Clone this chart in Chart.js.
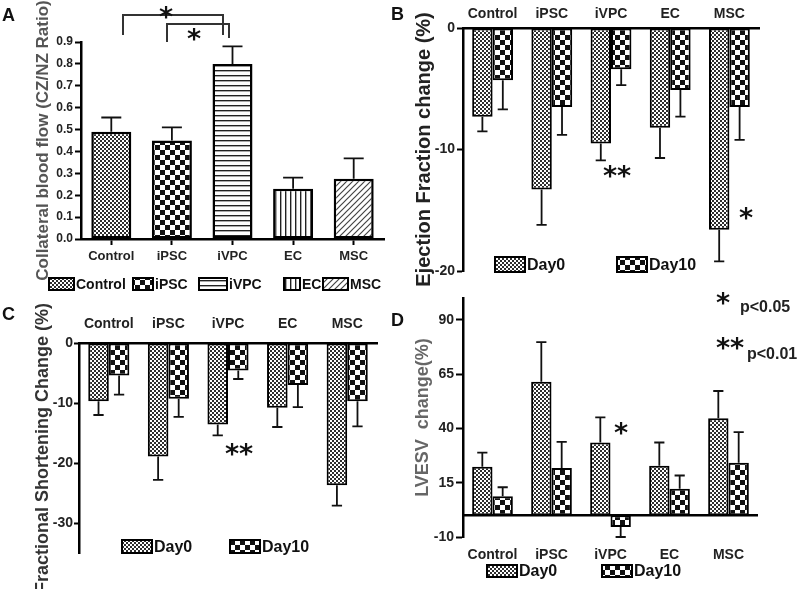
<!DOCTYPE html>
<html><head><meta charset="utf-8">
<script src="https://cdn.jsdelivr.net/npm/chart.js@4/dist/chart.umd.min.js"></script>
<style>
html,body{margin:0;padding:0;background:#fff;}
#wrap{position:relative;width:800px;height:589px;overflow:hidden;background:#fff;}
canvas{position:absolute;}
.pl{position:absolute;font:bold 18px "Liberation Sans",Arial,sans-serif;line-height:18px;color:#111;}
</style></head><body>
<div id="wrap">
<canvas id="cA" width="400" height="300" style="left:0;top:0"></canvas>
<canvas id="cB" width="400" height="300" style="left:400px;top:0"></canvas>
<canvas id="cC" width="400" height="289" style="left:0;top:300px"></canvas>
<canvas id="cD" width="400" height="319" style="left:400px;top:270px"></canvas>
<div class="pl" style="left:2px;top:6px">A</div>
<div class="pl" style="left:391px;top:5px">B</div>
<div class="pl" style="left:2px;top:305px">C</div>
<div class="pl" style="left:391px;top:311px">D</div>
</div>
<script>
// ---------- data ----------
const groups = ['Control','iPSC','iVPC','EC','MSC'];
const seriesNames = ['Day0','Day10'];

const flowValues = [0.49, 0.45, 0.80, 0.23, 0.275];
const flowErrors = [0.065, 0.06, 0.08, 0.05, 0.093];
const flowTicks  = [0,0.1,0.2,0.3,0.4,0.5,0.6,0.7,0.8,0.9];

const efDay0     = [-7.3, -13.3, -9.5, -8.2, -16.6];
const efDay0Err  = [1.2, 2.9, 1.4, 2.5, 2.6];
const efDay10    = [-4.3, -6.5, -3.4, -5.1, -6.5];
const efDay10Err = [2.4, 2.3, 1.3, 2.2, 2.7];
const efTicks    = [-20, -10, 0];

const fsDay0     = [-9.7, -18.9, -13.6, -10.8, -23.7];
const fsDay0Err  = [2.3, 3.9, 1.8, 3.2, 3.4];
const fsDay10    = [-5.4, -9.3, -4.6, -7.0, -9.7];
const fsDay10Err = [3.2, 3.0, 1.4, 3.7, 4.2];
const fsTicks    = [-30, -20, -10, 0];

const lvDay0     = [22.3, 61.5, 33.5, 22.8, 44.6];
const lvDay0Err  = [6.5, 18.2, 11.6, 10.7, 12.6];
const lvDay10    = [8.8, 21.8, -5.4, 12.2, 24.2];
const lvDay10Err = [4.1, 12.0, 4.6, 6.1, 14.1];
const lvTicks    = [-10, 15, 40, 65, 90];

// ---------- styles ----------
const FONT = '"Liberation Sans", Arial, sans-serif';
function pat(kind){
  const sz={fine:4,check:10,hline:5,vline:5,diag:6}[kind];
  const c=document.createElement('canvas'); c.width=c.height=sz;
  const g=c.getContext('2d');
  g.fillStyle='#fff'; g.fillRect(0,0,sz,sz);
  if(kind==='fine'){g.fillStyle='#2e2e2e';g.fillRect(0,0,2,2);g.fillRect(2,2,2,2);}
  else if(kind==='check'){g.fillStyle='#111';g.fillRect(0,0,5,5);g.fillRect(5,5,5,5);}
  else if(kind==='hline'){g.fillStyle='#222';g.fillRect(0,0,5,1);g.fillStyle='#aaa';g.fillRect(0,1,5,1);}
  else if(kind==='vline'){g.fillStyle='#222';g.fillRect(0,0,1,5);g.fillStyle='#aaa';g.fillRect(1,0,1,5);}
  else if(kind==='diag'){g.strokeStyle='#444';g.lineWidth=1.2;g.beginPath();
    g.moveTo(-1,7);g.lineTo(7,-1);g.moveTo(-1,1);g.lineTo(1,-1);g.moveTo(5,7);g.lineTo(7,5);g.stroke();}
  return g.createPattern(c,'repeat');
}
const P = {fine:pat('fine'),check:pat('check'),hline:pat('hline'),vline:pat('vline'),diag:pat('diag')};

function drawStar(ctx, text, cx, cy, size){
  ctx.save();
  ctx.font = 'bold '+size+'px "DejaVu Sans", sans-serif';
  ctx.fillStyle='#111'; ctx.textAlign='center'; ctx.textBaseline='alphabetic';
  const m = ctx.measureText(text);
  ctx.fillText(text, cx, cy + (m.actualBoundingBoxAscent - m.actualBoundingBoxDescent)/2);
  ctx.restore();
}

const panelPlugin = {
  id:'panel',
  afterDatasetsDraw(chart, args, opts){
    const ctx=chart.ctx, y=chart.scales.y, ca=chart.chartArea;
    if(opts.zeroLine){
      const z=y.getPixelForValue(0);
      ctx.save(); ctx.strokeStyle='#000'; ctx.lineWidth=2.5;
      ctx.beginPath(); ctx.moveTo(ca.left,z); ctx.lineTo(ca.right,z); ctx.stroke(); ctx.restore();
    }
    chart.data.datasets.forEach((ds,di)=>{
      const meta=chart.getDatasetMeta(di);
      meta.data.forEach((bar,i)=>{
        const v=ds.data[i], e=ds.errors[i];
        const end = v + (v>=0 ? e : -e);
        const y0=y.getPixelForValue(v), y1=y.getPixelForValue(end);
        const half=bar.width/4;
        ctx.save(); ctx.strokeStyle='#111'; ctx.lineWidth=1.8;
        ctx.beginPath(); ctx.moveTo(bar.x,y0); ctx.lineTo(bar.x,y1);
        ctx.moveTo(bar.x-half,y1); ctx.lineTo(bar.x+half,y1); ctx.stroke(); ctx.restore();
      });
    });
  },
  afterDraw(chart, args, opts){
    const ctx=chart.ctx;
    if(opts.lines){
      ctx.save(); ctx.strokeStyle='#333'; ctx.lineWidth=2;
      opts.lines.forEach(pl=>{ctx.beginPath(); ctx.moveTo(pl[0],pl[1]); for(let k=2;k<pl.length;k+=2) ctx.lineTo(pl[k],pl[k+1]); ctx.stroke();});
      ctx.restore();
    }
    if(opts.legend){
      const L=opts.legend;
      L.items.forEach(it=>{
        ctx.save();
        ctx.fillStyle=it.p; ctx.fillRect(it.x,L.y,it.w,L.h);
        ctx.strokeStyle='#000'; ctx.lineWidth=2; ctx.strokeRect(it.x,L.y,it.w,L.h);
        ctx.fillStyle='#111'; ctx.font='bold '+L.size+'px '+FONT;
        ctx.textAlign='left'; ctx.textBaseline='middle';
        ctx.fillText(it.t, it.x+it.w+2, L.y+L.h/2+1);
        ctx.restore();
      });
    }
    (opts.stars||[]).forEach(s=>drawStar(ctx,s.t,s.x,s.y,s.size||27));
    (opts.texts||[]).forEach(s=>{
      ctx.save(); ctx.font='bold '+s.size+'px '+FONT; ctx.fillStyle='#222';
      ctx.textAlign='left'; ctx.textBaseline='middle'; ctx.fillText(s.t,s.x,s.y); ctx.restore();
    });
  }
};

function yAxis(o){
  return {
    min:o.min, max:o.max,
    afterFit:s=>{s.width=o.w;},
    afterBuildTicks:s=>{s.ticks=o.ticks.map(v=>({value:v}));},
    ticks:{font:{family:FONT,size:o.fs,weight:'bold'},color:'#222',padding:o.pad,callback:o.cb||(v=>String(v))},
    grid:{display:true,drawOnChartArea:false,drawTicks:true,tickLength:o.tl,tickWidth:2,tickColor:'#000'},
    border:{display:true,width:2.5,color:'#000'},
    title:{display:true,text:o.title,color:o.tc,padding:0,font:{family:FONT,size:o.ts,weight:'bold'}}
  };
}
function xAxis(o){
  return {
    position:o.pos, offset:true,
    afterFit:s=>{s.height=o.h;},
    ticks:{font:{family:FONT,size:o.fs,weight:'bold'},color:'#222',padding:o.pad,maxRotation:0,autoSkip:false},
    grid:o.ticksOn ? {display:true,drawOnChartArea:false,offset:false,drawTicks:true,tickLength:6,tickWidth:2,tickColor:'#000'}
                   : {display:false,drawTicks:false},
    border:{display:o.border,width:2.5,color:'#000'}
  };
}
const base = {responsive:false, animation:false, devicePixelRatio:1,
  plugins:{legend:{display:false},tooltip:{enabled:false}}};

function pairSets(d0,e0,d10,e10){
  return [
    {label:seriesNames[0],data:d0,errors:e0,backgroundColor:P.fine,borderColor:'#000',borderWidth:2,borderSkipped:false,categoryPercentage:0.69,barPercentage:1},
    {label:seriesNames[1],data:d10,errors:e10,backgroundColor:P.check,borderColor:'#000',borderWidth:2,borderSkipped:false,categoryPercentage:0.69,barPercentage:1}
  ];
}

// ---------- Panel A ----------
new Chart(document.getElementById('cA'), {
  type:'bar',
  data:{labels:groups, datasets:[{data:flowValues, errors:flowErrors,
    backgroundColor:[P.fine,P.check,P.hline,P.vline,P.diag], borderColor:'#000', borderWidth:2.5,
    borderSkipped:false, categoryPercentage:0.66, barPercentage:1}]},
  options:Object.assign({}, base, {
    layout:{autoPadding:false, padding:{left:33,right:16,top:42,bottom:31}},
    plugins:Object.assign({}, base.plugins, {panel:{
      lines:[[123,35,123,15,223,15,223,35],[167,42,167,24,229,24,229,38]],
      stars:[{t:'*',x:166,y:12},{t:'*',x:194,y:34}],
      legend:{y:278,h:12,size:14,items:[
        {x:49,w:25,t:'Control',p:P.fine},{x:133,w:20,t:'iPSC',p:P.check},{x:199,w:28,t:'iVPC',p:P.hline},
        {x:284,w:16,t:'EC',p:P.vline},{x:323,w:25,t:'MSC',p:P.diag}]}
    }}),
    scales:{
      x:xAxis({pos:'bottom',h:30,fs:13,pad:4,ticksOn:true,border:true}),
      y:yAxis({min:0,max:0.9,w:48,ticks:flowTicks,fs:12,pad:2,tl:6,cb:v=>Number(v).toFixed(1),
        title:'Collateral blood flow (CZ/NZ Ratio)',tc:'#555',ts:17})
    }
  }),
  plugins:[panelPlugin]
});

// ---------- Panel B ----------
new Chart(document.getElementById('cB'), {
  type:'bar',
  data:{labels:groups, datasets:pairSets(efDay0,efDay0Err,efDay10,efDay10Err)},
  options:Object.assign({}, base, {
    layout:{autoPadding:false, padding:{left:12,right:41,top:6,bottom:29}},
    plugins:Object.assign({}, base.plugins, {panel:{
      stars:[{t:'**',x:217,y:171},{t:'*',x:346,y:213}],
      legend:{y:257,h:15,size:16,items:[{x:95,w:30,t:'Day0',p:P.fine},{x:217,w:30,t:'Day10',p:P.check}]}
    }}),
    scales:{
      x:xAxis({pos:'top',h:22,fs:14,pad:5,ticksOn:false,border:true}),
      y:yAxis({min:-20,max:0,w:51,ticks:efTicks,fs:14,pad:2,tl:6,
        title:'Ejection Fraction change (%)',tc:'#222',ts:20})
    }
  }),
  plugins:[panelPlugin]
});

// ---------- Panel C ----------
new Chart(document.getElementById('cC'), {
  type:'bar',
  data:{labels:groups, datasets:pairSets(fsDay0,fsDay0Err,fsDay10,fsDay10Err)},
  options:Object.assign({}, base, {
    layout:{autoPadding:false, padding:{left:32,right:23,top:13,bottom:36}},
    plugins:Object.assign({}, base.plugins, {panel:{
      stars:[{t:'**',x:239,y:149}],
      legend:{y:240,h:13,size:16,items:[{x:122,w:30,t:'Day0',p:P.fine},{x:230,w:30,t:'Day10',p:P.check}]}
    }}),
    scales:{
      x:xAxis({pos:'top',h:30,fs:14,pad:10,ticksOn:false,border:true}),
      y:yAxis({min:-35,max:0,w:47,ticks:fsTicks,fs:14,pad:1,tl:5,
        title:'Fractional Shortening Change (%)',tc:'#333',ts:18})
    }
  }),
  plugins:[panelPlugin]
});

// ---------- Panel D ----------
new Chart(document.getElementById('cD'), {
  type:'bar',
  data:{labels:groups, datasets:pairSets(lvDay0,lvDay0Err,lvDay10,lvDay10Err)},
  options:Object.assign({}, base, {
    layout:{autoPadding:false, padding:{left:12,right:42,top:28,bottom:22}},
    plugins:Object.assign({}, base.plugins, {panel:{
      zeroLine:true,
      stars:[{t:'*',x:221,y:158},{t:'*',x:323,y:28},{t:'**',x:330,y:73}],
      texts:[{t:'p<0.05',x:340,y:38,size:16},{t:'p<0.01',x:347,y:85,size:16}],
      legend:{y:295,h:12,size:16,items:[{x:87,w:30,t:'Day0',p:P.fine},{x:202,w:30,t:'Day10',p:P.check}]}
    }}),
    scales:{
      x:xAxis({pos:'bottom',h:30,fs:14,pad:10,ticksOn:false,border:false}),
      y:yAxis({min:-10,max:100,w:51,ticks:lvTicks,fs:14,pad:2,tl:7,
        title:'LVESV  change(%)',tc:'#666',ts:18})
    }
  }),
  plugins:[panelPlugin]
});
</script>
</body></html>
